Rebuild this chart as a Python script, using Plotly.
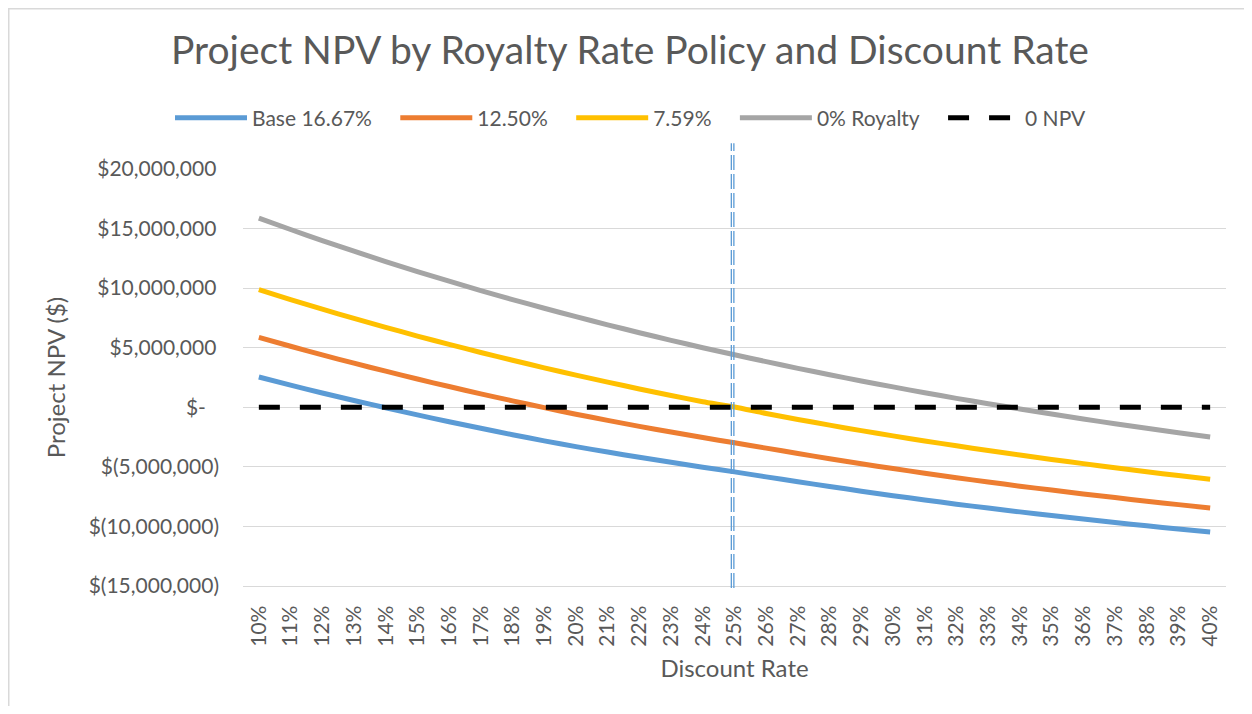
import plotly.graph_objects as go

# ---- data ----
discount_rates = [f"{r}%" for r in range(10, 41)]

npv_base_1667 = [2.54, 1.86, 1.20, 0.57, -0.04, -0.64, -1.21, -1.76, -2.30, -2.82,
                 -3.30, -3.76, -4.20, -4.62, -5.03, -5.42, -5.84, -6.25, -6.65, -7.04,
                 -7.42, -7.78, -8.13, -8.46, -8.78, -9.09, -9.38, -9.67, -9.95, -10.21, -10.46]
npv_1250 = [5.87, 5.12, 4.40, 3.70, 3.03, 2.37, 1.74, 1.13, 0.54, -0.03,
            -0.58, -1.10, -1.60, -2.08, -2.54, -2.98, -3.43, -3.88, -4.32, -4.74,
            -5.14, -5.53, -5.91, -6.27, -6.62, -6.95, -7.27, -7.58, -7.88, -8.17, -8.45]
npv_759 = [9.87, 9.04, 8.24, 7.46, 6.71, 5.98, 5.28, 4.60, 3.95, 3.31,
           2.70, 2.11, 1.54, 0.99, 0.47, 0.02, -0.52, -1.02, -1.50, -1.96,
           -2.40, -2.83, -3.23, -3.63, -4.01, -4.38, -4.73, -5.08, -5.41, -5.73, -6.04]
npv_0 = [15.88, 14.92, 13.99, 13.10, 12.23, 11.39, 10.58, 9.80, 9.04, 8.31,
         7.61, 6.92, 6.26, 5.62, 5.00, 4.41, 3.83, 3.27, 2.73, 2.21,
         1.71, 1.22, 0.75, 0.30, -0.14, -0.57, -0.98, -1.38, -1.76, -2.13, -2.49]
zero_npv = [0.0] * len(discount_rates)

series_names = ["Base 16.67%", "12.50%", "7.59%", "0% Royalty"]
series_values = [npv_base_1667, npv_1250, npv_759, npv_0]
series_colors = ["#5B9BD5", "#ED7D31", "#FFC000", "#A5A5A5"]
zero_name = "0 NPV"

y_tick_vals = [-15e6, -10e6, -5e6, 0, 5e6, 10e6, 15e6, 20e6]
y_tick_text = ["$(15,000,000)", "$(10,000,000)", "$(5,000,000)", "$-\u2002\u2009",
               "$5,000,000\u2009", "$10,000,000\u2009", "$15,000,000\u2009", "$20,000,000\u2009"]
highlight_rate = "25%"

# ---- figure ----
FONT = "Lato"
GREY_TXT = "#595959"
LEGEND_PAD = "\u2003\u2009"  # extra spacing after each legend entry

fig = go.Figure()
for name, vals, col in zip(series_names, series_values, series_colors):
    fig.add_trace(go.Scatter(
        x=discount_rates, y=[v * 1e6 for v in vals], name=name + LEGEND_PAD, mode="lines",
        line=dict(color=col, width=5, shape="spline", smoothing=0.6),
    ))
fig.add_trace(go.Scatter(
    x=discount_rates, y=zero_npv, name=zero_name, mode="lines",
    line=dict(color="black", width=5, dash="21px,20px"),
))

# vertical double dashed marker at the highlighted rate
hi = discount_rates.index(highlight_rate)
for off in (-0.1, -0.02):
    fig.add_shape(type="line", xref="x", yref="paper",
                  x0=hi + off, x1=hi + off, y0=-0.005, y1=1.062,
                  line=dict(color="#5B9BD5", width=1.3, dash="15px,4px"))

# layout geometry (page has an 8px body margin)
W, H = 1236, 698
L, R, T, B = 235, 18, 161, 120
pw, ph = W - L - R, H - T - B

# chart-area border
fig.add_shape(type="rect", xref="paper", yref="paper",
              x0=(0.75 - L) / pw, x1=(W + 6 - L) / pw,
              y0=-(B + 6) / ph, y1=(H - B - 0.75) / ph,
              line=dict(color="#D9D9D9", width=1.5), layer="below")

fig.update_layout(
    width=W, height=H,
    margin=dict(l=L, r=R, t=T, b=B, autoexpand=False),
    paper_bgcolor="white", plot_bgcolor="white",
    font=dict(family=FONT, color=GREY_TXT, size=21),
    title=dict(text="Project NPV by Royalty Rate Policy and Discount Rate",
               x=0.5032, xanchor="center", xref="container", y=0.94, yref="container",
               yanchor="middle",
               font=dict(family=FONT, size=39, color=GREY_TXT)),
    legend=dict(orientation="h", x=(631 - 8 - L) / pw, xanchor="center", xref="paper",
                y=1.122, yanchor="middle", font=dict(size=21, color=GREY_TXT),
                itemwidth=72, tracegroupgap=0, bgcolor="rgba(0,0,0,0)"),
    showlegend=True,
)
fig.update_xaxes(
    type="category", categoryorder="array", categoryarray=discount_rates,
    range=[-0.5, len(discount_rates) - 0.5],
    tickangle=-90, showgrid=False, showline=True, linecolor="#D9D9D9", linewidth=1.3,
    ticks="", tickfont=dict(size=21, color=GREY_TXT), ticklabelstandoff=10,
    title=dict(text="Discount Rate", font=dict(size=24, color=GREY_TXT), standoff=14),
    zeroline=False, automargin=False,
)
fig.update_yaxes(
    range=[-15e6, 20e6], tickvals=y_tick_vals, ticktext=y_tick_text,
    showgrid=True, gridcolor="#D9D9D9", gridwidth=1.3, zeroline=False,
    showline=False, ticks="", ticklabelstandoff=23,
    tickfont=dict(size=21, color=GREY_TXT),
    title=dict(text="Project NPV ($)", font=dict(size=24, color=GREY_TXT), standoff=16),
    automargin=False,
)

fig.write_html("out.html")
